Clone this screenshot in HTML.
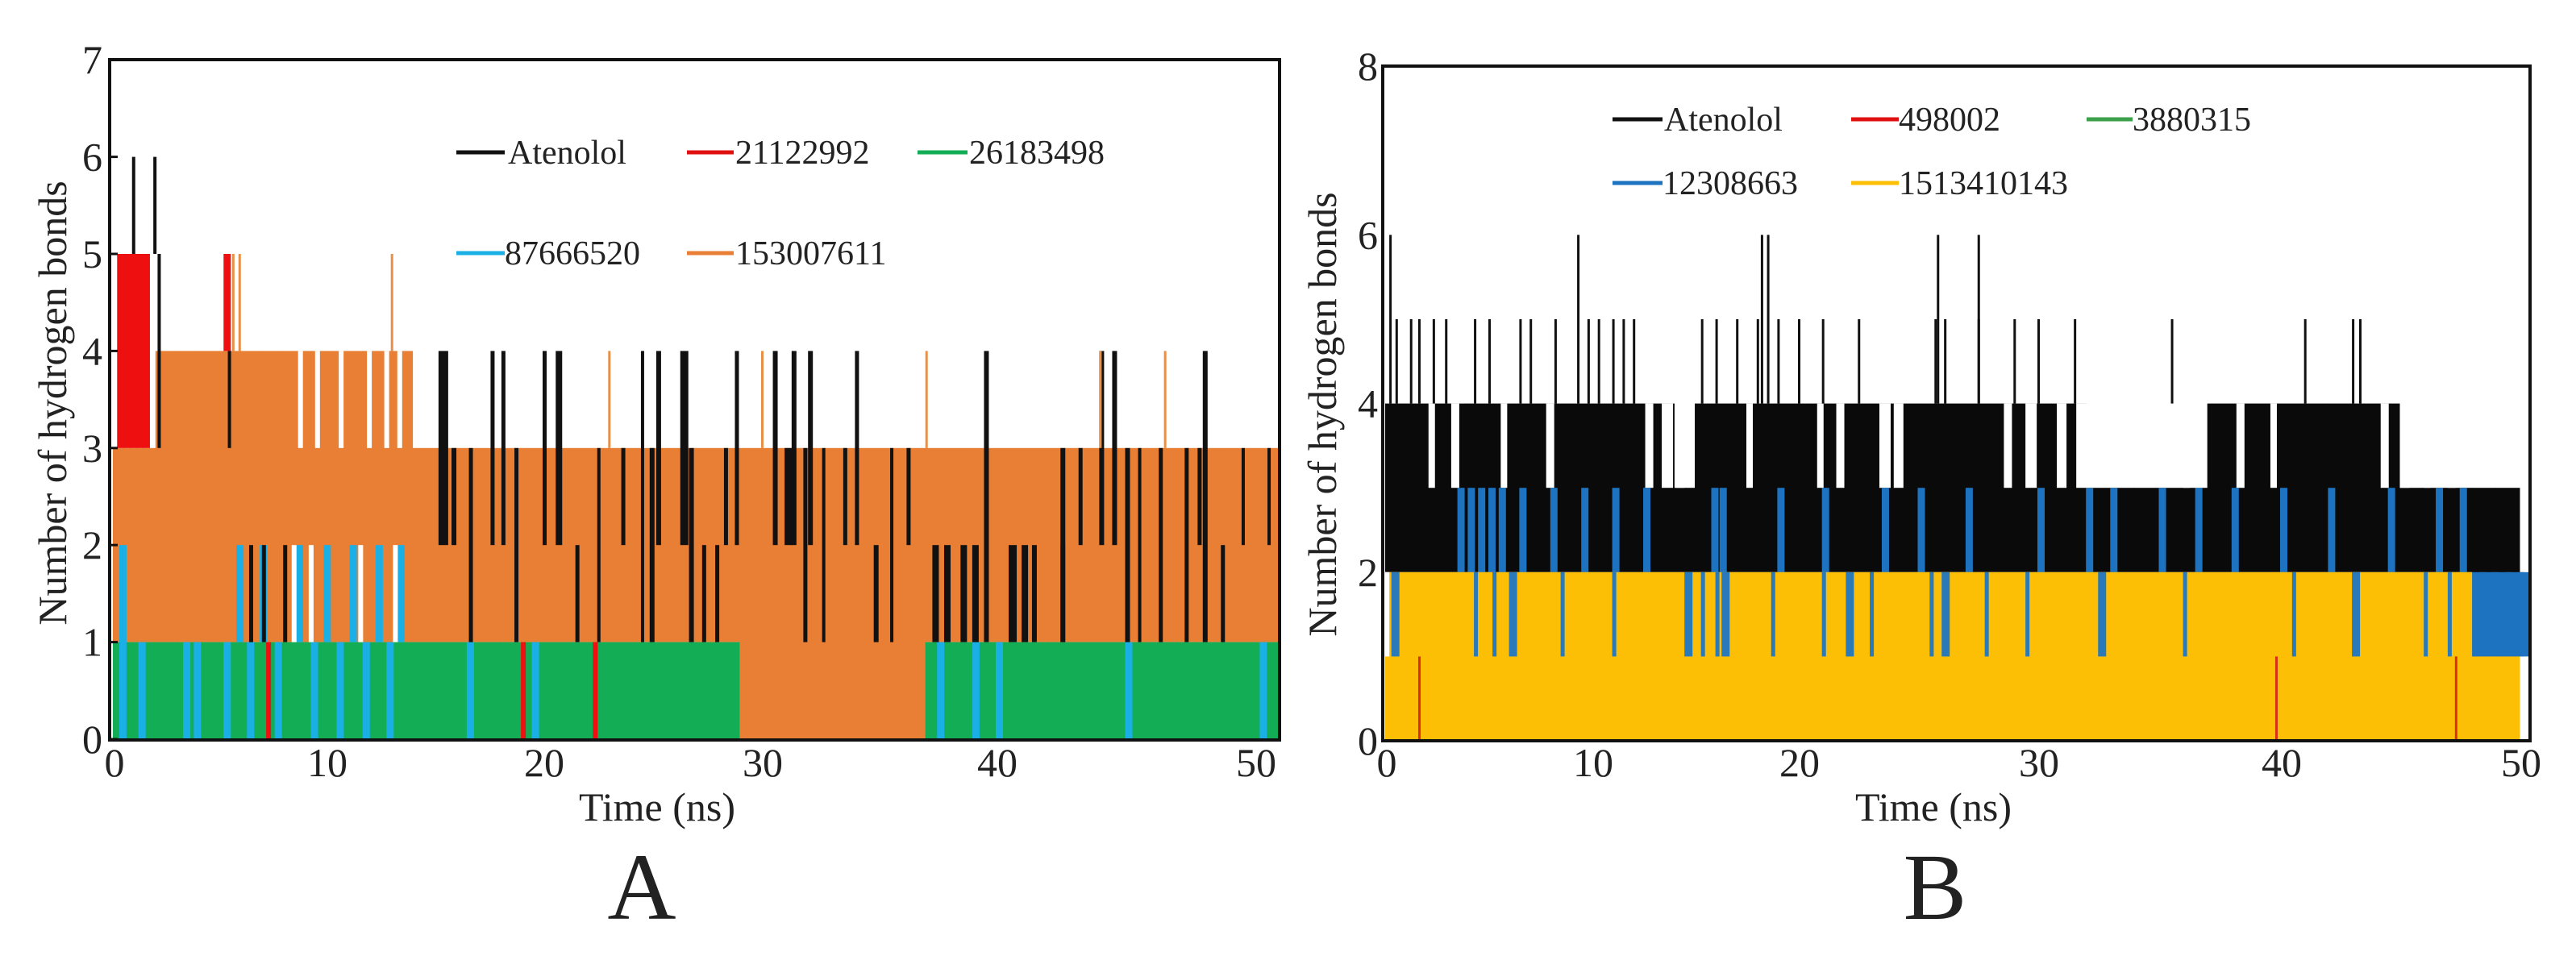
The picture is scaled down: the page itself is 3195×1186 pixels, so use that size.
<!DOCTYPE html>
<html><head><meta charset="utf-8"><style>
body{margin:0;background:#fff}
svg{display:block}
text{font-family:"Liberation Serif",serif;fill:#222}
</style></head><body>
<svg id="fig" width="3195" height="1186" viewBox="0 0 3195 1186">
<g id="pa"></g>
<g id="pb"></g>
</svg>
<script>
// ---------- Panel A data ----------
const aTicksX=[0,10,20,30,40,50];
const aTicksY=[0,1,2,3,4,5,6,7];
const aOrangeLo=[1,1,1,1,1,1,1,1,1,1,1,1,1,1,1,1,1,1,1,1,1,1,1,1,1,1,1,1,1,0,0,0,0,0,0,0,0,1,1,1,1,1,1,1,1,1,1,1,1,1,1];
const aOrangeHi=[3,3,4,4,4,4,4,4,4,4,4,4,4,4,3,3,3,3,3,3,3,3,3,3,3,3,3,3,3,3,3,3,3,3,3,3,3,3,3,3,3,3,3,3,3,3,3,3,3,3,3];
const aGreenOn=[1,1,1,1,1,1,1,1,1,1,1,1,1,1,1,1,1,1,1,1,1,1,1,1,1,1,1,1,1,0,0,0,0,0,0,0,0,1,1,1,1,1,1,1,1,1,1,1,1,1,1];
const aCyanT=[0.3,1.2,3.3,3.8,5.2,5.8,6.3,6.9,7.6,8.6,9.3,9.9,10.5,11.1,11.7,12.3,12.8,13.3,16.5,19.5,37.5,39,40,45,50.2];
const aCyanLo=[0,0,0,0,0,1,0,1,0,1,0,1,0,1,0,1,0,1,0,0,0,0,0,0,0];
const aCyanHi=[2,1,1,1,1,2,1,2,1,2,1,2,1,2,1,2,1,2,1,1,1,1,1,1,1];
const aRedT=[0.2,0.5,0.8,1.1,1.4,5.2,7.2,19,22.3,42.5];
const aRedLo=[3,3,3,3,3,4,0,0,0,1];
const aRedHi=[5,5,5,5,5,5,1,1,1,2];
const aWhiteT=[8.7,9.5,10.6,11.9,12.7,13.3,8.4,9.2,11.5,13.1];
const aWhiteLo=[3,3,3,3,3,3,1,1,1,1];
const aWhiteHi=[4,4,4,4,4,4,2,2,2,2];
const aBlackT=[0.9,1.9,2.1,5.4,6.4,7,8,15.2,15.8,16.6,17.6,18.1,18.7,20,20.6,21.5,22.5,23.6,24.5,24.9,25.2,26.3,26.7,27.3,27.9,28.3,28.8,30.5,31,31.3,31.8,32,32.6,33.5,34,34.8,35.5,36.2,37.3,37.8,38.5,39,39.5,40.5,41,41.4,42.5,43.2,44,44.5,45,45.5,46.3,47.3,47.8,48,48.7,49.5,50.5];
const aBlackLo=[5,5,3,3,1,1,1,2,2,1,2,2,1,2,2,1,1,2,1,1,2,2,1,1,1,2,2,2,2,2,1,2,1,2,2,1,1,2,1,1,1,1,1,1,1,1,1,2,2,2,1,1,1,1,2,1,1,2,2];
const aBlackHi=[6,6,5,4,2,2,2,4,3,3,4,4,3,4,4,2,3,3,4,3,4,4,3,2,2,3,4,4,3,4,3,4,3,3,4,2,3,3,2,2,2,2,4,2,2,2,3,3,4,4,3,3,3,3,3,4,2,3,3];
const aBlackW=[4,4,4,4,5,5,5,12,6,5,5,5,5,5,8,5,4,5,4,6,6,10,6,5,5,5,5,6,10,6,5,6,4,5,5,6,4,5,8,8,8,8,6,10,8,6,6,5,6,6,6,4,5,5,5,6,5,4,4];
const aOrangeSpikeT=[5.6,5.9,13,23,30,37,44,46.5];
const aOrangeSpikeV=[5,5,5,4,4,4,4,4];
// ---------- Panel B data ----------
const bTicksX=[0,10,20,30,40,50];
const bTicksY=[0,2,4,6,8];
const bBlackLo=[2,2,2,2,2,2,2,2,2,2,2,2,2,2,2,2,2,2,2,2,2,2,2,2,2,2,2,2,2,2,2,2,2,2,2,2,2,2,2,2,2,2,2,2,2,2,2,2,1,1];
const bBlackHi=[4,4,4,4,4,4,4,4,4,4,4,4,4,4,3,4,4,4,4,4,4,4,4,4,4,4,4,4,4,4,4,4,3,3,3,3,3,4,4,4,4,4,4,4,4,3,3,3,3,3];
const bYellowHi=[2,2,2,2,2,2,2,2,2,2,2,2,2,2,2,2,2,2,2,2,2,2,2,2,2,2,2,2,2,2,2,2,2,2,2,2,2,2,2,2,2,2,2,2,2,2,2,2,1,1];
const bWhiteT=[2.1,3.2,5.6,7.8,12.6,13.4,14.1,17.5,20.8,21.6,23.4,24,28.6,29.5,30.8,31.6,36,36.5,38.2,39.6,44.2,45,46,47];
const bWhiteW=[8,10,8,10,10,14,10,8,8,10,14,12,10,14,12,16,8,8,10,8,10,12,8,10];
const bBlueT=[3.5,4,4.5,5,5.5,6.5,8,9.5,11,12.5,15.8,16.2,19,21,23.5,25,27,30,32,33,35,36.5,38,40,42,44.5,46.5,47.5,48.3,48.8,49.4,49.9];
const bBlueLo=[2,2,2,2,2,2,2,2,2,2,1,1,2,2,2,2,2,2,2,2,2,2,2,2,2,2,2,2,1,1,1,1];
const bBlueHi=[3,3,3,3,3,3,3,3,3,3,3,3,3,3,3,3,3,3,3,3,3,3,3,3,3,3,3,3,2,2,2,2];
const bBlue12T=[0.3,4.3,5.2,6,8.5,11,14.5,15.3,16,16.3,18.7,21,22,23,25.5,26,27.8,29.5,32.5,36,40.5,43,46,47];
const bSpike5T=[0.5,1.2,1.6,2.3,2.9,4.3,5,6.5,7,8.2,9.8,10.3,11,11.5,12,15.3,16,17,18,19,20,21,22.5,25.7,26.1,27.5,29,30,31.5,35.5,41,43,43.3];
const bSpike6T=[0.2,9.3,18.2,18.5,25.8,27.5];
const bRedT=[1.6,39.8,47.3];

const NS='http://www.w3.org/2000/svg';
function el(p,tag,at){const e=document.createElementNS(NS,tag);for(const k in at)e.setAttribute(k,at[k]);p.appendChild(e);return e;}
function pw(tk,px){return v=>{let i=0;while(i<tk.length-2&&v>tk[i+1])i++;return px[i]+(v-tk[i])*(px[i+1]-px[i])/(tk[i+1]-tk[i]);};}

// ---- Panel A ----
const pa=document.getElementById('pa');
const xA=pw(aTicksX,[140,404,673,944,1235,1556]);
const yA=v=>917-v*120.4;
function bandA(x0,x1,lo,hi,c,name){const r=el(pa,'rect',{x:x0,y:yA(hi),width:Math.max(x1-x0,1),height:yA(lo)-yA(hi),fill:c});

return r;}
for(let i=0;i<aOrangeLo.length;i++){bandA(xA(i),xA(i+1)+0.5,aOrangeLo[i],aOrangeHi[i],'#e97f35','orange-band');}
for(let i=0;i<aGreenOn.length;i++){if(aGreenOn[i])bandA(xA(i),xA(i+1)+0.5,0,1,'#12ad55','green-band');}
for(let i=0;i<aCyanT.length;i++){const x=xA(aCyanT[i]);bandA(x,x+9,aCyanLo[i],aCyanHi[i],'#1ab0e6','cyan-stripe');}
for(let i=0;i<aWhiteT.length;i++){const x=xA(aWhiteT[i]);bandA(x,x+6,aWhiteLo[i],aWhiteHi[i],'#fff','white-gap');}
for(let i=0;i<aRedT.length;i++){const x=xA(aRedT[i]);bandA(x,x+(aRedLo[i]>=3?9:6),aRedLo[i],aRedHi[i],'#ee1010','red-stripe');}
for(let i=0;i<aBlackT.length;i++){const x=xA(aBlackT[i]);bandA(x,x+aBlackW[i],aBlackLo[i],aBlackHi[i],'#111','black-stripe');}
for(let i=0;i<aOrangeSpikeT.length;i++){const x=xA(aOrangeSpikeT[i]);bandA(x,x+3,aOrangeSpikeV[i]-1,aOrangeSpikeV[i],'#e6904a','orange-spike');}
el(pa,'rect',{x:136,y:74,width:1451,height:844,fill:'none',stroke:'#111','stroke-width':4,});
aTicksY.forEach(v=>{const t=el(pa,'text',{x:127,y:yA(v)+17,'font-size':50,'text-anchor':'end'});t.textContent=v;

el(pa,'line',{x1:136,x2:146,y1:yA(v),y2:yA(v),stroke:'#111','stroke-width':3});});
aTicksX.forEach(v=>{const t=el(pa,'text',{x:xA(v)+2,y:963,'font-size':50,'text-anchor':'middle'});t.textContent=v;
});
// ---- Panel B ----
const pb=document.getElementById('pb');
const xB=pw(bTicksX,[1718,1974,2230,2527,2828,3125]);
const yB=v=>919-v*104.6;
function bandB(x0,x1,lo,hi,c,name){const r=el(pb,'rect',{x:x0,y:yB(hi),width:Math.max(x1-x0,1),height:yB(lo)-yB(hi),fill:c});

return r;}
for(let i=0;i<bBlackLo.length;i++){bandB(xB(i),xB(i+1)+0.5,bBlackLo[i],bBlackHi[i],'#0a0a0a','black-band');}
for(let i=0;i<bWhiteT.length;i++){const x=xB(bWhiteT[i]);bandB(x,x+bWhiteW[i],3,4,'#fff','white-gap');}
for(let i=0;i<bBlueT.length;i++){const x=xB(bBlueT[i]);bandB(x,x+9,bBlueLo[i],bBlueHi[i],'#1d73bf','blue-stripe');}
bandB(xB(48),xB(50.4),1,2,'#1d73bf','blue-band');
for(let i=0;i<bYellowHi.length;i++){bandB(xB(i),xB(i+1)+0.5,0,bYellowHi[i],'#fcbf06','yellow-band');}
bandB(xB(0),xB(0.2),1,2,'#fff','white-gap');
for(let i=0;i<bBlue12T.length;i++){const x=xB(bBlue12T[i]);bandB(x,x+(i%3==0?10:5),1,2,'#2a79b8','blue-stripe-low');}
for(let i=0;i<bSpike5T.length;i++){const x=xB(bSpike5T[i]);bandB(x,x+3,4,5,'#111','black-spike-5');}
for(let i=0;i<bSpike6T.length;i++){const x=xB(bSpike6T[i]);bandB(x,x+3,4,6,'#111','black-spike-6');}
for(let i=0;i<bRedT.length;i++){const x=xB(bRedT[i]);bandB(x,x+3,0,1,'#d83010','red-stripe');}
el(pb,'rect',{x:1715,y:82,width:1423,height:837,fill:'none',stroke:'#111','stroke-width':4,});
bTicksY.forEach(v=>{const t=el(pb,'text',{x:1709,y:yB(v)+17,'font-size':50,'text-anchor':'end'});t.textContent=v;
});
bTicksX.forEach(v=>{const t=el(pb,'text',{x:xB(v)+2,y:963,'font-size':50,'text-anchor':'middle'});t.textContent=v;
});
</script>
<svg width="3195" height="1186" style="position:absolute;left:0;top:0">
<text x="66" y="500" font-size="50" text-anchor="middle" transform="rotate(-90 66 500)" dy="16">Number of hydrogen bonds</text>
<text x="815" y="1018" font-size="50" text-anchor="middle">Time (ns)</text>
<text x="796" y="1140" font-size="118" text-anchor="middle">A</text>
<text x="1641" y="514" font-size="50" text-anchor="middle" transform="rotate(-90 1641 514)" dy="16">Number of hydrogen bonds</text>
<text x="2398" y="1018" font-size="50" text-anchor="middle">Time (ns)</text>
<text x="2400" y="1140" font-size="118" text-anchor="middle">B</text>
<g font-size="42">
<g><line x1="566" x2="626" y1="189" y2="189" stroke="#111" stroke-width="5"/><text x="630" y="203">Atenolol</text></g>
<g><line x1="852" x2="910" y1="189" y2="189" stroke="#e01010" stroke-width="5"/><text x="912" y="203">21122992</text></g>
<g><line x1="1138" x2="1200" y1="189" y2="189" stroke="#12ad55" stroke-width="5"/><text x="1202" y="203">26183498</text></g>
<g><line x1="566" x2="626" y1="314" y2="314" stroke="#1ab0e6" stroke-width="5"/><text x="626" y="328">87666520</text></g>
<g><line x1="852" x2="910" y1="314" y2="314" stroke="#e97f35" stroke-width="5"/><text x="912" y="328">153007611</text></g>
</g>
<g font-size="42">
<g><line x1="2000" x2="2062" y1="148" y2="148" stroke="#111" stroke-width="5"/><text x="2064" y="162">Atenolol</text></g>
<g><line x1="2296" x2="2355" y1="148" y2="148" stroke="#e01010" stroke-width="5"/><text x="2355" y="162">498002</text></g>
<g><line x1="2588" x2="2645" y1="148" y2="148" stroke="#3aa04a" stroke-width="5"/><text x="2645" y="162">3880315</text></g>
<g><line x1="2000" x2="2062" y1="227" y2="227" stroke="#1d73bf" stroke-width="5"/><text x="2062" y="241">12308663</text></g>
<g><line x1="2296" x2="2355" y1="227" y2="227" stroke="#fcbf06" stroke-width="5"/><text x="2355" y="241">1513410143</text></g>
</g>
</svg>
</body></html>
